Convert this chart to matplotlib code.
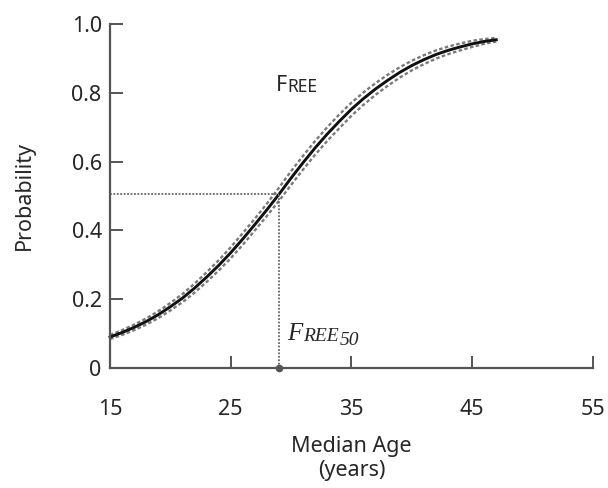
import matplotlib.pyplot as plt

# median age (years) and fitted probability
age = [15, 16, 17, 18, 19, 20, 21, 22, 23, 24, 25, 26, 27, 28, 29, 30, 31,
       32, 33, 34, 35, 36, 37, 38, 39, 40, 41, 42, 43, 44, 45, 46, 47]
prob = [0.090, 0.103, 0.118, 0.135, 0.155, 0.178, 0.203, 0.232, 0.264, 0.298,
        0.335, 0.375, 0.417, 0.460, 0.505, 0.552, 0.597, 0.640, 0.680, 0.717,
        0.752, 0.783, 0.811, 0.836, 0.859, 0.879, 0.896, 0.911, 0.923, 0.933,
        0.942, 0.949, 0.954]
upper = [0.096, 0.110, 0.126, 0.144, 0.165, 0.189, 0.215, 0.245, 0.278, 0.313,
         0.351, 0.392, 0.434, 0.478, 0.524, 0.572, 0.617, 0.660, 0.700, 0.737,
         0.771, 0.801, 0.828, 0.852, 0.874, 0.893, 0.909, 0.923, 0.934, 0.943,
         0.951, 0.956, 0.959]
lower = [0.084, 0.096, 0.110, 0.126, 0.145, 0.167, 0.191, 0.219, 0.250, 0.283,
         0.319, 0.358, 0.400, 0.442, 0.486, 0.532, 0.577, 0.620, 0.660, 0.697,
         0.733, 0.765, 0.794, 0.820, 0.844, 0.865, 0.883, 0.899, 0.912, 0.923,
         0.933, 0.942, 0.949]

free50_age = 29
free50_prob = 0.505

xticks = [15, 25, 35, 45, 55]
yticks = [0, 0.2, 0.4, 0.6, 0.8, 1.0]
yticklabels = ['0', '0.2', '0.4', '0.6', '0.8', '1.0']

plt.rcParams['font.family'] = ['Noto Sans', 'DejaVu Sans']
txt = '#262626'
axc = '#555555'

fig = plt.figure(figsize=(6.08, 4.88), dpi=100)
ax = fig.add_axes([0.181, 0.246, 0.794, 0.705])

# confidence band (dashed) and fitted curve
ax.plot(age, upper, color='#7a7a7a', lw=1.7, ls=(0, (1.5, 1.0)), clip_on=False)
ax.plot(age, lower, color='#7a7a7a', lw=1.7, ls=(0, (1.5, 1.0)), clip_on=False)
ax.plot(age, prob, color='#111111', lw=2.1, clip_on=False)

# FREE50 guide lines
ax.plot([15, free50_age], [free50_prob, free50_prob], color='#666666', lw=1.3,
        ls=(0, (1, 0.9)), clip_on=False)
ax.plot([free50_age, free50_age], [0, free50_prob], color='#666666', lw=1.3,
        ls=(0, (1, 0.9)), clip_on=False)
ax.plot([free50_age], [0], 'o', color='#555555', ms=4.5, clip_on=False, zorder=5)

# small-caps labels
t1 = ax.text(28.75, 0.805, 'F', fontsize=15.5, color=txt, va='baseline')
ax.annotate('REE', xy=(1, 0), xycoords=t1, fontsize=12.5, color=txt, va='bottom')

serif = ['Liberation Serif', 'DejaVu Serif']
t2 = ax.text(29.7, 0.082, 'F', fontsize=18, color=txt, style='italic',
             family=serif, va='baseline')
t3 = ax.annotate('REE', xy=(1, 0), xycoords=t2, fontsize=14, color=txt,
                 style='italic', family=serif, va='bottom')
ax.annotate('50', xy=(1, 0), xycoords=t3, xytext=(1, -3),
            textcoords='offset points', fontsize=14, color=txt,
            style='italic', family=serif, va='bottom')

ax.set_xlim(15, 55)
ax.set_ylim(0, 1.0)
ax.set_xticks(xticks)
ax.set_yticks(yticks)
ax.set_yticklabels(yticklabels)

for s in ['top', 'right']:
    ax.spines[s].set_visible(False)
for s in ['left', 'bottom']:
    ax.spines[s].set_color(axc)
    ax.spines[s].set_linewidth(1.6)

ax.tick_params(direction='in', length=9, width=1.4, color=axc,
               labelsize=15.5, labelcolor=txt)
ax.tick_params(axis='x', pad=22)
ax.tick_params(axis='y', pad=6)

ax.set_xlabel('Median Age\n(years)', fontsize=15.5, color=txt, labelpad=12,
              linespacing=1.2)
ax.set_ylabel('Probability', fontsize=15.5, color=txt, labelpad=26)

fig.savefig('out.png', dpi=100)
